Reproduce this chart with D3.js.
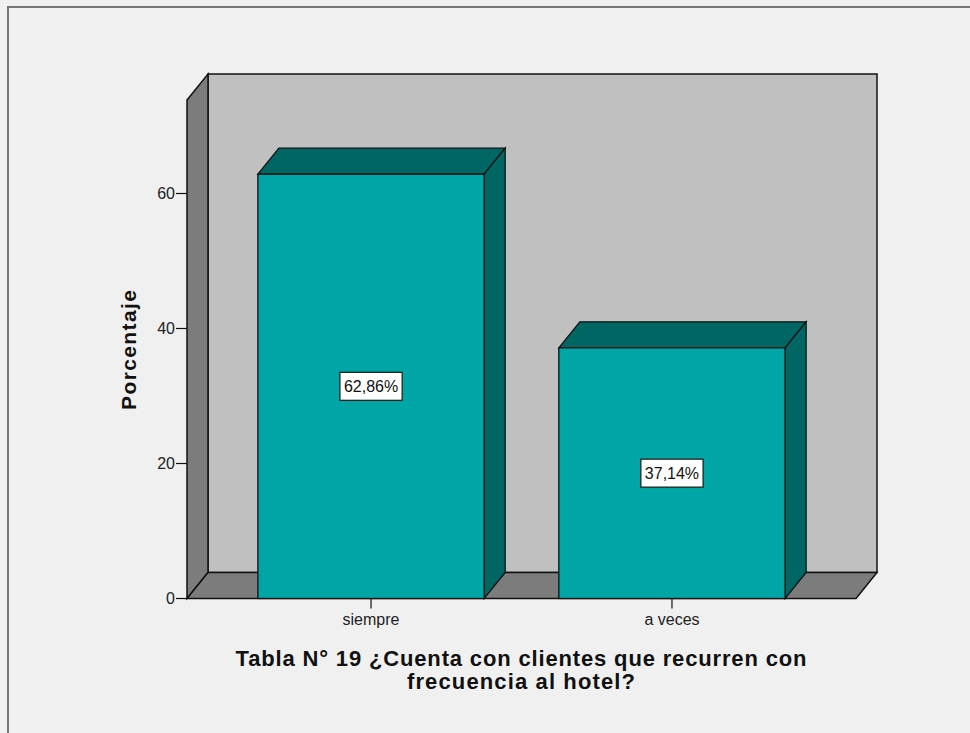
<!DOCTYPE html>
<html>
<head>
<meta charset="utf-8">
<script src="https://cdn.jsdelivr.net/npm/d3@7"></script>
<style>
  html, body { margin: 0; padding: 0; background: #f0f0f0; }
  svg { display: block; }
  text { font-family: "Liberation Sans", Arial, sans-serif; }
</style>
</head>
<body>
<script>
// Frecuencia de clientes que recurren al hotel (porcentaje)
const categories = ["siempre", "a veces"];
const percentages = [62.86, 37.14];
const valueLabels = ["62,86%", "37,14%"];
const yTicks = [0, 20, 40, 60];
const yMax = 73.85;
const yLabel = "Porcentaje";
const titleLines = ["Tabla N° 19 ¿Cuenta con clientes que recurren con", "frecuencia al hotel?"];

const W = 970, H = 733;
const svg = d3.select("body").append("svg").attr("width", W).attr("height", H);

// outer frame
svg.append("rect").attr("x", 0).attr("y", 0).attr("width", W).attr("height", H).attr("fill", "#f0f0f0");
svg.append("path").attr("d", `M8,${H} L8,7 L${W},7`).attr("fill", "none")
  .attr("stroke", "#777").attr("stroke-width", 2);

// plot geometry (front plane) and depth offset
const x0 = 187, x1 = 856, yBase = 598.5;
const dx = 21, dy = -26;

const y = d3.scaleLinear().domain([0, 60]).range([yBase, 193.5]);
const x = d3.scaleBand().domain(categories).range([x0, x1])
  .paddingInner(0.248).paddingOuter(0.2355);

const yTop = y(yMax);
const stroke = "#111";

// back wall
svg.append("polygon")
  .attr("points", [[x0 + dx, yTop + dy], [x1 + dx, yTop + dy], [x1 + dx, yBase + dy], [x0 + dx, yBase + dy]].join(" "))
  .attr("fill", "#c0c0c0").attr("stroke", stroke).attr("stroke-width", 1.5);
// left wall
svg.append("polygon")
  .attr("points", [[x0, yTop], [x0 + dx, yTop + dy], [x0 + dx, yBase + dy], [x0, yBase]].join(" "))
  .attr("fill", "#7c7c7c").attr("stroke", stroke).attr("stroke-width", 1.5);
// floor
svg.append("polygon")
  .attr("points", [[x0, yBase], [x0 + dx, yBase + dy], [x1 + dx, yBase + dy], [x1, yBase]].join(" "))
  .attr("fill", "#7c7c7c").attr("stroke", stroke).attr("stroke-width", 1.5);

// y axis ticks and labels
const yAxis = svg.append("g");
yTicks.forEach(t => {
  yAxis.append("line").attr("x1", x0 - 11).attr("x2", x0).attr("y1", y(t)).attr("y2", y(t))
    .attr("stroke", stroke).attr("stroke-width", 1.2);
  yAxis.append("text").attr("x", x0 - 12).attr("y", y(t)).attr("dy", "0.35em")
    .attr("text-anchor", "end").attr("font-size", 16).attr("fill", "#222").text(t);
});

// bars
const bars = svg.append("g");
categories.forEach((c, i) => {
  const bx = x(c), bw = x.bandwidth(), by = y(percentages[i]);
  // top face
  bars.append("polygon")
    .attr("points", [[bx, by], [bx + dx, by + dy], [bx + bw + dx, by + dy], [bx + bw, by]].join(" "))
    .attr("fill", "#006664").attr("stroke", stroke).attr("stroke-width", 1.3);
  // side face
  bars.append("polygon")
    .attr("points", [[bx + bw, by], [bx + bw + dx, by + dy], [bx + bw + dx, yBase + dy], [bx + bw, yBase]].join(" "))
    .attr("fill", "#006664").attr("stroke", stroke).attr("stroke-width", 1.3);
  // front face
  bars.append("rect").attr("x", bx).attr("y", by).attr("width", bw).attr("height", yBase - by)
    .attr("fill", "#00a6a6").attr("stroke", stroke).attr("stroke-width", 1.3);

  // value label
  const cx = bx + bw / 2, cy = y(percentages[i] / 2);
  const lbl = bars.append("g");
  const txt = lbl.append("text").attr("x", cx).attr("y", cy).attr("dy", "0.36em")
    .attr("text-anchor", "middle").attr("font-size", 16).attr("fill", "#111").text(valueLabels[i]);
  const bb = txt.node().getBBox();
  lbl.insert("rect", "text").attr("x", bb.x - 4).attr("y", cy - 14).attr("width", bb.width + 8).attr("height", 28)
    .attr("fill", "#fff").attr("stroke", "#222").attr("stroke-width", 1.3);

  // category tick and label
  svg.append("line").attr("x1", cx).attr("x2", cx).attr("y1", yBase).attr("y2", yBase + 10)
    .attr("stroke", stroke).attr("stroke-width", 1.2);
  svg.append("text").attr("x", cx).attr("y", 625).attr("text-anchor", "middle")
    .attr("font-size", 16).attr("fill", "#222").text(c);
});

// y axis title
svg.append("text").attr("transform", `translate(136,350) rotate(-90)`)
  .attr("text-anchor", "middle").attr("font-size", 21).attr("font-weight", "bold")
  .attr("textLength", 120).attr("lengthAdjust", "spacing")
  .attr("fill", "#111").text(yLabel);

// chart title
const titleWidths = [571, 228];
titleLines.forEach((t, i) => {
  svg.append("text").attr("x", 521).attr("y", 666 + i * 23).attr("text-anchor", "middle")
    .attr("font-size", 22).attr("font-weight", "bold")
    .attr("textLength", titleWidths[i]).attr("lengthAdjust", "spacing")
    .attr("fill", "#111").text(t);
});
</script>
</body>
</html>
